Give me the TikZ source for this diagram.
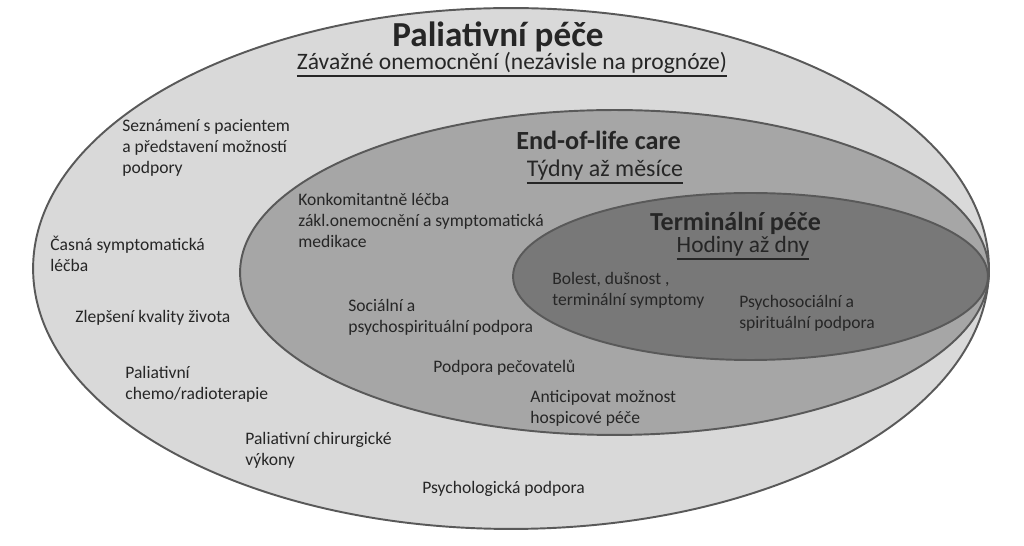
\documentclass[tikz,border=0pt]{standalone}
\usepackage{fontspec}
\setmainfont{Carlito}
\usetikzlibrary{shapes.geometric}
\definecolor{rimgray}{gray}{0.35}
\definecolor{outerfill}{gray}{0.85}
\definecolor{middlefill}{gray}{0.65}
\definecolor{innerfill}{gray}{0.47}
\definecolor{textgray}{gray}{0.15}
\newcommand{\undl}[1]{\leavevmode\vtop{\hbox{#1}\kern0.8pt\hrule height 0.9pt}}

\begin{document}
\begin{tikzpicture}[x=0.02cm,y=-0.02cm]
        \tikzstyle{every node} = [text=textgray, inner sep=0pt]
        \tikzstyle{zone} = [ellipse, draw=rimgray, line width=1.1pt]
        \tikzstyle{item} = [align=left, anchor=north west, font=\fontsize{10}{12}\selectfont]
        \tikzstyle{head} = [anchor=base, font=\bfseries\fontsize{20}{24}\selectfont]
        \tikzstyle{subhead} = [anchor=base, font=\fontsize{13.4}{16}\selectfont]
        \useasboundingbox (0,0) rectangle (1024,546);
        \node[zone, fill=outerfill, minimum width=19.12cm, minimum height=10.42cm] (outer) at (511,268.5) {};
        \node[zone, fill=middlefill, minimum width=14.98cm, minimum height=6.5cm] (middle) at (614.5,272.5) {};
        \node[zone, fill=innerfill, minimum width=9.5cm, minimum height=3.34cm] (inner) at (750.5,276.5) {};
        % outer zone
        \node[head] (palhead) at (498,47) {Paliativní péče};
        \node[subhead] (palsub) at (512,70) {\undl{Závažné onemocnění (nezávisle na prognóze)}};
        \node[item] (seznam) at (122,119) {Seznámení s pacientem\\a představení možností\\podpory};
        \node[item] (casna) at (50,236) {Časná symptomatická\\léčba};
        \node[item] (kvalita) at (75,310) {Zlepšení kvality života};
        \node[item] (chemo) at (125,366) {Paliativní\\chemo/radioterapie};
        \node[item] (chir) at (245,432) {Paliativní chirurgické\\výkony};
        \node[item] (psycho) at (422,481) {Psychologická podpora};
        % middle zone
        \node[head, font=\bfseries\fontsize{14.9}{18}\selectfont] (eolhead) at (598.5,150) {End-of-life care};
        \node[subhead, font=\fontsize{13.6}{16}\selectfont] (eolsub) at (605,177) {\undl{Týdny až měsíce}};
        \node[item] (konko) at (298,193) {Konkomitantně léčba\\zákl.onemocnění a symptomatická\\medikace};
        \node[item] (social) at (348,299) {Sociální a\\psychospirituální podpora};
        \node[item] (pecov) at (433,360) {Podpora pečovatelů};
        \node[item] (hospic) at (530,390) {Anticipovat možnost\\hospicové péče};
        % inner zone
        \node[head, font=\bfseries\fontsize{14.8}{18}\selectfont] (termhead) at (735.5,231) {Terminální péče};
        \node[subhead, font=\fontsize{13.3}{16}\selectfont] (termsub) at (743,253) {\undl{Hodiny až dny}};
        \node[item] (bolest) at (552,272) {Bolest, dušnost ,\\terminální symptomy};
        \node[item] (spirit) at (739,295) {Psychosociální a\\spirituální podpora};
    \end{tikzpicture}
\end{document}
